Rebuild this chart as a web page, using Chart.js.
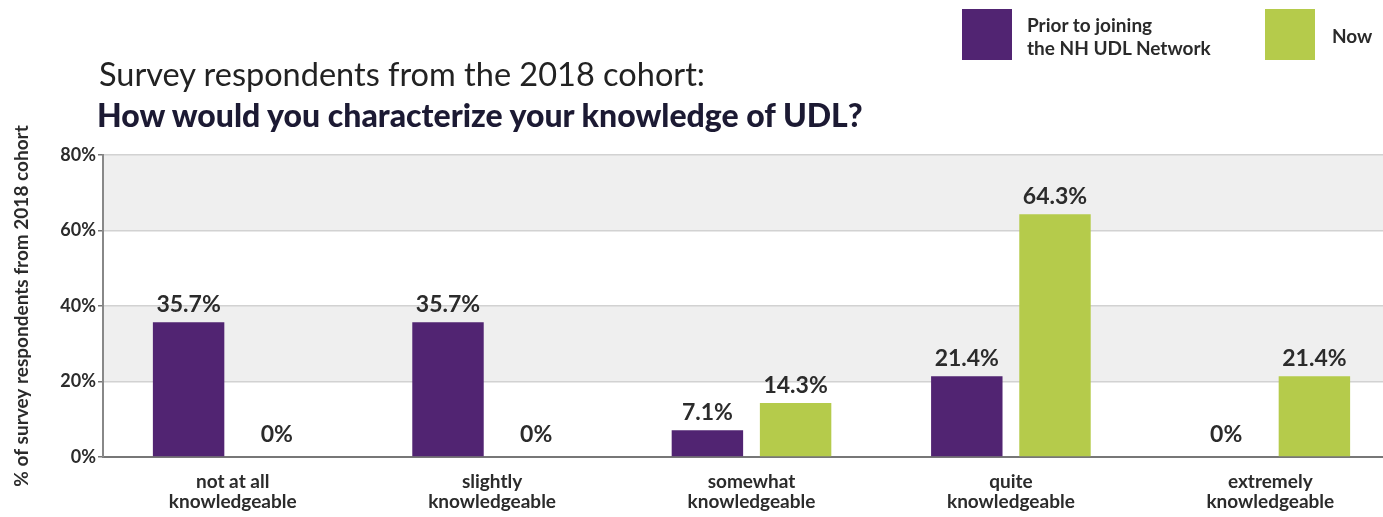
<!DOCTYPE html>
<html>
<head>
<meta charset="utf-8">
<script src="https://cdn.jsdelivr.net/npm/chart.js@4.4.1/dist/chart.umd.min.js"></script>
<style>
  body { margin: 0; background: #fff; overflow: hidden; font-family: Lato, sans-serif; }
  #wrap { position: relative; width: 1383px; height: 517px; overflow: hidden; }
  #chart { position: absolute; left: 0; top: 0; }
  .subtitle { position: absolute; left: 99px; top: 58px; font-size: 32.5px; line-height: 32.5px; color: #222; white-space: nowrap; }
  .title { position: absolute; left: 97px; top: 99px; font-size: 32px; line-height: 32px; font-weight: 900; color: #1c1a33; white-space: nowrap; }
  .swatch { position: absolute; width: 50px; height: 51px; top: 9px; }
  .legend-text { position: absolute; font-size: 19px; line-height: 23px; font-weight: 700; color: #2a2a2a; white-space: nowrap; }
</style>
</head>
<body>
<div id="wrap">
  <canvas id="chart" width="1400" height="517"></canvas>
  <div class="subtitle">Survey respondents from the 2018 cohort:</div>
  <div class="title">How would you characterize your knowledge of UDL?</div>
  <div class="swatch" style="left:962px;background:#512472;"></div>
  <div class="legend-text" style="left:1027px;top:13px;">Prior to joining<br>the NH UDL Network</div>
  <div class="swatch" style="left:1265px;background:#b5cb4b;"></div>
  <div class="legend-text" style="left:1332px;top:24px;">Now</div>
</div>
<script>
// Knowledge levels and share of respondents (%)
const categories = [
  ['not at all', 'knowledgeable'],
  ['slightly', 'knowledgeable'],
  ['somewhat', 'knowledgeable'],
  ['quite', 'knowledgeable'],
  ['extremely', 'knowledgeable']
];
const priorValues = [35.7, 35.7, 7.1, 21.4, 0];
const nowValues = [0, 0, 14.3, 64.3, 21.4];
const yTicks = [0, 20, 40, 60, 80];

const purple = '#512472';
const green = '#b5cb4b';

// alternating grey / white bands between the y grid lines
const bandPlugin = {
  id: 'bands',
  beforeDraw(chart) {
    const { ctx, chartArea, scales } = chart;
    ctx.save();
    for (let i = 0; i < yTicks.length - 1; i++) {
      if (i % 2 === 0) continue;
      const top = scales.y.getPixelForValue(yTicks[i + 1]);
      const bottom = scales.y.getPixelForValue(yTicks[i]);
      ctx.fillStyle = '#efefef';
      ctx.fillRect(chartArea.left, top, chartArea.right - chartArea.left, bottom - top);
    }
    ctx.restore();
  }
};

// value labels above each bar
const valueLabels = {
  id: 'valueLabels',
  afterDatasetsDraw(chart) {
    const { ctx } = chart;
    ctx.save();
    ctx.font = 'bold 23px Lato';
    ctx.textAlign = 'center';
    ctx.textBaseline = 'bottom';
    chart.data.datasets.forEach((ds, di) => {
      chart.getDatasetMeta(di).data.forEach((bar, i) => {
        const v = ds.data[i];
        ctx.fillStyle = '#2b2b2b';
        ctx.fillText(v + '%', bar.x, bar.y - (v === 0 ? 11 : 6));
      });
    });
    ctx.restore();
  }
};

const ctx = document.getElementById('chart').getContext('2d');
new Chart(ctx, {
  type: 'bar',
  data: {
    labels: categories,
    datasets: [
      { label: 'Prior to joining the NH UDL Network', data: priorValues, backgroundColor: purple },
      { label: 'Now', data: nowValues, backgroundColor: green }
    ]
  },
  options: {
    responsive: false,
    animation: false,
    categoryPercentage: 0.68,
    barPercentage: 0.81,
    layout: { padding: { top: 155, left: 0, right: 0, bottom: 0 } },
    plugins: {
      legend: { display: false },
      tooltip: { enabled: false }
    },
    scales: {
      x: {
        grid: { display: false },
        border: { color: '#777', width: 2 },
        ticks: {
          color: '#2b2b2b',
          font: { family: 'Lato', weight: 'bold', size: 19, lineHeight: 1.1 },
          padding: 6,
          maxRotation: 0
        },
        afterFit(scale) { scale.height = 60; }
      },
      y: {
        min: 0,
        max: 80,
        ticks: {
          stepSize: 20,
          color: '#2b2b2b',
          font: { family: 'Lato', weight: 'bold', size: 18 },
          padding: 2,
          callback: v => v + '%'
        },
        grid: { color: '#d2d2d2', lineWidth: 1.5, tickLength: 5, tickColor: '#777' },
        border: { color: '#888', width: 2 },
        title: {
          display: true,
          text: '% of survey respondents from 2018 cohort',
          color: '#2b2b2b',
          font: { family: 'Lato', weight: 'bold', size: 19 },
          padding: { top: 10, bottom: 0 }
        },
        afterFit(scale) { scale.width = 103; }
      }
    }
  },
  plugins: [bandPlugin, valueLabels]
});
</script>
</body>
</html>
